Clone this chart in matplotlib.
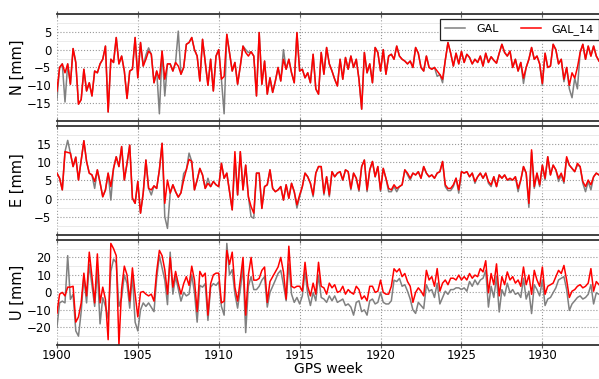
import numpy as np
import matplotlib
matplotlib.use("Agg")
import matplotlib.pyplot as plt
from matplotlib.ticker import MultipleLocator

# GPS weeks, 6 samples per week
weeks = np.linspace(1900, 1933.5, 202)

# North component [mm]
n_gal = [
    -14, -5, -4, -14.7, -4, -9.7, 0.3, -3.6, -15.3, -14,
    -5.5, -11.6, -9.3, -13, -6, -6.5, -4, -2.7, 1, -17.5,
    -2.7, -3.6, 3.4, -4, -1.8, -6, -13.7, -6, -5.5, 3.4,
    -7.9, 2, -4.6, -1.5, 0.5, -1.3, -9.3, -6, -18, -0.4,
    -13, -4, -4, -6, -3.6, 5.2, -6.9, -5, 1.5, 2,
    3.4, 0, -1.8, -8.8, 2.9, -3.6, -10, -2.7, -11.6, -1.8,
    0, -8.3, -18, 4.3, -0.8, -6, -3.6, -9.7,
    -4.6, 1, 0, -0.8, -0.6, -1.8, -13, 4.8, -9.7, -3.2,
    -12.5, -7.9, -12, -8.8, -5, -8.8, 0, -5.5, -2.7, -6.5,
    -9.3, 4.8, -6, -5.5, -7.9, -6.5, -9.3, -1.3, -11, -12.5,
    -0.8, -6.9, 0.6, -4, -6, -8.3, -10.2, -2.7, -8.3, -2.2,
    -5.5, -1.8, -5, -2.7, -8.3, -16.7, -0.8, -6.5, -4, -9.3,
    0.6, -0.8, -6, 0, -6.9, -1.8, -1.3, -2.7, 1, -1.8,
    -2.7, -3.2, -4, -3.2, -5, 0.6,
    -1, -5, -6, -1.8, -5, -5.5, -5, -7.5, -7, -9.3,
    -3, 2, -1, -4.6, -1, -4, -0.5, -3.6, -1.3, -2.2,
    -4, -2.7, -3.6, -1.8, -4.6, -1, -3.6, -2, -3, -3.8,
    -1, 1.5, -0.8, -1.8, -0.4, -5, -2.7, -6, -3.6, -9.5,
    -5, -2.7, 0.6, -2.7, -1.8, -4, -10, -1, -5, -4.6,
    1.5, 0, -4, -2.7, -9, -5, -11, -13.5, -8, -11,
    -0.8, 1.5, -2.7, 1, -1.8, 1, -1.8, -3.2,
]
n_gal14 = [
    -11.6, -5, -4, -6.5, -4, -9.7, 0.3, -3.6, -15.3, -14,
    -5.5, -11.6, -9.3, -13, -6, -6.5, -4, -2.7, 1, -17.5,
    -2.7, -3.6, 3.4, -4, -1.8, -6, -13.7, -6, -5.5, 3.4,
    -7.9, 2, -4.6, -2.7, -0.4, -1.3, -9.3, -6, -8.3, -0.4,
    -8.3, -4, -4, -6, -3.6, -4.6, -6.9, -5, 1.5, 2,
    3.4, 0, -1.8, -8.8, 2.9, -3.6, -10, -2.7, -11.6, -1.8,
    0, -8.3, -7.5, 4.3, -0.8, -6, -3.6, -9.7,
    -4.6, 1, -0.8, -1.8, -0.6, -1.8, -13, 4.8, -9.7, -3.2,
    -12.5, -7.9, -12, -8.8, -5, -8.8, -2.7, -5.5, -2.7, -6.5,
    -9.3, 4.8, -6, -5.5, -7.9, -6.5, -9.3, -1.3, -11, -12.5,
    -0.8, -6.9, 0.6, -4, -6, -8.3, -10.2, -2.7, -8.3, -2.2,
    -5.5, -1.8, -5, -2.7, -8.3, -16.7, -0.8, -6.5, -4, -9.3,
    0.6, -0.8, -6, 0, -6.9, -1.8, -1.3, -2.7, 1, -1.8,
    -2.7, -3.2, -4, -3.2, -5, 0.6,
    -1, -5, -6, -1.8, -5, -5.5, -5, -6, -7, -8.3,
    -3, 2, -1, -4.6, -1, -4, -0.5, -3.6, -1.3, -2.2,
    -4, -2.7, -3.6, -1.8, -4.6, -1, -3.6, -2, -3, -3.8,
    -1, 1.5, -0.8, -1.8, -0.4, -5, -2.7, -6, -3.6, -8,
    -5, -2.7, 0.6, -2.7, -1.8, -4, -9.5, -1, -5, -4.6,
    1.5, 0, -4, -2.7, -8.3, -5, -10, -6.5, -8, -5,
    -0.8, 1.5, -2.7, 1, -1.8, 1, -1.8, -3.2,
]

# East component [mm]
e_gal = [
    7, 5.6, 2.4, 12.9, 16, 12.5, 8.8, 11.4, 5.1, 10.6,
    15.9, 10.2, 7, 6.5, 2.8, 7.9, 4.4, 0.5, 2.4, 7,
    -0.4, 8.3, 11.5, 8.8, 14.3, 5.1, 9.7, 14.7, 0.1, -1.3,
    4.7, -4, 1.5, 10.6, 2.8, 1, 3.5, 2.8, 7.9, 15.2,
    -5, -8.2, 1.5, 3.8, 1.9, 0.4, 1.6, 6.9, 7.9, 12.5,
    10.2, 2.4, 5.1, 8.3, 6.5, 2.8, 5.6, 3.3, 4.7, 3.8,
    3.3, 9.7, 5.6, 7, 1.9, -3.1, 10.6, 1, 12.9, 2.4,
    9.2, 0.5, -5, -5.4, 7, 7, -2.7, 3.3, 3.8, 7.9,
    2.8, 1.9, 2.4, 3.3, -0.4, 3.8, 0.1,
    4.2, 1.9, -2.6, 0.5, 3.3, 7, 6, 4.2, 0.5, 7,
    8.8, 8.8, 1, 6, 0.5, 7.4, 6, 7, 7.4, 5.1,
    7.9, 7.4, 2.4, 7, 5.6, 2, 8.8, 10.6, 1.9, 7.9,
    10.2, 6, 8.8, 2, 8.3, 5.6, 1.9, 1.9, 3.3, 1.9,
    3.3, 3.8, 7.9, 6.5, 5.1, 7, 6.5, 7.4, 5.6, 8.8,
    7, 6, 6.5, 5.6, 7, 7.4, 10.2, 3.3, 2.2, 2.2,
    3.3, 5.6, 1.5, 7.4, 7, 7.4, 6, 7, 4.2, 6,
    7, 5.6, 7, 4.2, 3.3, 6, 3.3, 6.5, 5.6, 6.5,
    5.1, 5.1, 5.1, 6, 1.9, 5.1, 8.8, 7, -2.4, 12.8,
    2.8, 7, 3.3, 9.2, 5.1, 11.5, 6.5, 9.2, 7.9, 4.7,
    6.5, 4.2, 11, 9.2, 8.3, 7.4, 9.2, 8.8, 4.2, 1.9,
    4.7, 2.4, 6, 7, 6.5,
]
e_gal14 = [
    7, 5.6, 2.4, 12.9, 12.7, 12.5, 8.8, 11.4, 5.1, 10.6,
    15.9, 10.2, 7, 6.5, 4.7, 7.9, 4.4, 0.5, 2.4, 7,
    3.3, 8.3, 11.5, 8.8, 14.3, 5.1, 9.7, 14.7, 0.1, -1.3,
    4.7, -4, 1.5, 10.6, 2.8, 2.4, 3.5, 2.8, 7.9, 15.2,
    -1.3, 5.1, 1.5, 3.8, 1.9, 0.4, 1.6, 5.1, 7.9, 10.8,
    10.2, 2.4, 5.1, 8.3, 6.5, 2.8, 4.2, 3.3, 4.7, 3.8,
    3.3, 9.7, 5.6, 7, 1.9, -3.1, 12.9, 1, 12.9, 2.4,
    9.2, 0.5, -2.2, -4, 7, 7, -2.7, 3.3, 3.8, 7.9,
    2.8, 1.9, 2.4, 3.3, -0.4, 3.8, 0.1,
    4.2, 1.9, -1.7, 1, 3.3, 7, 6, 4.2, 1, 7,
    8.8, 8.8, 1.5, 6, 1, 7.4, 6, 7, 7.4, 5.1,
    7.9, 7.4, 2.8, 7, 5.6, 2.4, 8.8, 10.6, 2.4, 7.9,
    10.2, 6, 8.8, 2.4, 8.3, 5.6, 2.8, 2.4, 3.8, 2.8,
    3.3, 3.8, 7.9, 7, 5.6, 7, 6.5, 7.4, 5.6, 8.8,
    7, 6, 6.5, 5.6, 7, 7.4, 10.2, 3.8, 2.8, 2.8,
    3.8, 5.6, 2.4, 7.4, 7, 7.4, 6, 7, 4.7, 6,
    7, 5.6, 7, 4.7, 3.8, 6, 3.3, 6.5, 5.6, 6.5,
    5.1, 5.6, 5.1, 6, 2.8, 5.1, 8.8, 7, -1.3, 13.4,
    3.3, 7, 3.8, 9.2, 5.6, 11.5, 6.5, 9.2, 7.9, 5.6,
    7, 4.7, 11.5, 9.2, 8.3, 7.4, 9.7, 8.8, 4.7, 3.3,
    5.1, 3.8, 6, 7, 6.5,
]

# Up component [mm]
u_gal = [
    -20, -6, -5, -6, 21, -4, -1, -22, -25, -11,
    9, -6, 16, 4, -8, 13, -18, -3, -8, -15,
    12, 19, 17, -8, -3, 10, 5, -9, 10, -17,
    -22, -10, -6, -8, -6, -8.5, -11, 8, 21, 14,
    7, -7, 23, -1, 9, 2, -5, 0, -2, -1,
    10, 0, -17, 4, 3, 5, -16, 3, 5, 4,
    6, -8, -13, 28, 10, 13, -1, -9,
    1.6, 14.5, -23, 3.5, 9, 1.6, 1.6, 3.5, 7, 9,
    -8.4, 0, 3.5, 7, 10.8, 12.6, 4.4, -4.8, 16.3, -1,
    -5.7, -2.9, -6.6, -2, 11.7, -1, -7.5, 0, -4.8, 9.9,
    -2.9, -3.8, -5.7, -2, -4.8, -2, -5.7, -4.8, -3.8, -7.5,
    -6.6, -8.4, -13, -5.7, -4.8, -11, -10, -13, -4.8, -3.8,
    -6.6, -5.7, 0, -5.7, -6.6, -6.6, -4.8, 7, 6.2, 8,
    3.5, 4.4, 0.7, -3.8, -10, -12,
    -5.7, -7.5, -9.3, 4.4, 0.7, 1.6, -2.9, 5.3, -6.6, -2.9,
    0.7, -1.1, 1.6, 1.6, 2.6, 2.6, 1.6, 2.6, 0.7, 6.2,
    3.5, 7.1, 4.4, 7.1, 8.1, 12.6, -8.4, 3.5, -2.9, 9,
    -11.2, 1.6, -2, 5.3, -0.2, 1.6, -1.1, -0.2, -2.9, 8.1,
    -3.8, 0.7, -12.1, 4.4, 1.6, -2, 7.1, -7.5, -3.8, -2.9,
    -0.2, 2.6, 7.1, 8.1, 9, 1.6, -10.3, -6.6, -4.8, -2.9,
    -2, -3.8, -2.9, -1.1, 4.4, -6.6, -0.2, -1.1,
]
u_gal14 = [
    -12, -1, 0, -2, 3, 3, 3.5, -17, -14, -6,
    11, -2, 23, 9, -6, 22, -6, 3, -4, -27,
    28, 25, 21, -30, 2, 15, 10, -5, 14, -1,
    -14, 0, 0.5, -1, -2, -1, -5, 12, 24, 21,
    13, -1, 20, 3, 12, 5, -1, 5, 9, 4,
    15, 7, -11, 12, 9, 11, -13, 5, 10, 11,
    11, -6, -5, 24, 16, 23, 3, -5,
    7.1, 20, -13, 10, 20, 7, 7, 8, 12.6, 14.5,
    -5.7, 6.2, 9, 11.7, 14.5, 20, 11.7, -3.8, 26.4, 3.5,
    2.6, 3.5, 3.5, 0.7, 17.2, 3.5, -2, 5.3, -1, 17.2,
    3.5, 2.6, -1, 5.3, 2.6, 4.4, 0, 0.7, 3.5, -1,
    1.6, 0, -1, 3.5, 1.6, -3.8, -2, -4.8, 3.5, 3.5,
    0, 0.7, 7, 0, -1, -1, 3.5, 13.5, 11.7, 13.5,
    9, 10.8, 6.2, 3.5, -5.7, 0,
    2.6, 0.7, -2, 12.6, 7.1, 9, 3.5, 13.6, 0.7, 5.3,
    7.1, 4.4, 8.1, 8.1, 7.1, 9.9, 7.1, 9, 7.1, 10.8,
    8.1, 9.9, 9, 13.6, 11.7, 18.1, -0.2, 10.8, 4.4, 16.3,
    -2, 9, 4.4, 11.7, 7.1, 9, 5.3, 7.1, 3.5, 14.5,
    4.4, 9.9, -1.1, 12.6, 7.1, 3.5, 14.5, -1.1, 3.5, 4.4,
    5.3, 9, 12.6, 10.8, 15.4, 7.1, -2.9, 0.7, 1.6, 3.5,
    4.4, 2.6, 3.5, 5.3, 13.6, 0.7, 6.2, 4.4,
]

panels = [
    ("N [mm]", n_gal, n_gal14, (-20, 10), [-15, -10, -5, 0, 5], 2.5),
    ("E [mm]", e_gal, e_gal14, (-10, 20), [-5, 0, 5, 10, 15], 2.5),
    ("U [mm]", u_gal, u_gal14, (-30, 30), [-20, -10, 0, 10, 20], 5),
]

fig = plt.figure(figsize=(5.99, 3.79), dpi=100)
boxes = [[0.095, 0.681, 0.905, 0.282],
         [0.095, 0.380, 0.905, 0.288],
         [0.095, 0.090, 0.905, 0.277]]

axes = []
for box, (label, gal, gal14, ylim, yticks, minor) in zip(boxes, panels):
    ax = fig.add_axes(box)
    ax.plot(weeks, gal, color="#808080", lw=1.1, label="GAL")
    ax.plot(weeks, gal14, color="red", lw=1.1, label="GAL_14")
    ax.set_xlim(1900, 1933.5)
    ax.set_ylim(*ylim)
    ax.set_yticks(yticks)
    ax.yaxis.set_minor_locator(MultipleLocator(minor))
    ax.xaxis.set_major_locator(MultipleLocator(5))
    ax.grid(True, which="major", color="#999999", linestyle=":", lw=0.8)
    ax.grid(True, which="minor", axis="y", color="#e6e6e6", linestyle="-", lw=0.6)
    ax.set_axisbelow(True)
    for side in ["left", "right"]:
        ax.spines[side].set_visible(False)
    for side in ["top", "bottom"]:
        ax.spines[side].set_color("#333333")
        ax.spines[side].set_linewidth(1.3)
    ax.tick_params(axis="y", which="both", length=0, pad=4, labelsize=8.5)
    ax.tick_params(axis="x", which="major", direction="inout", length=4,
                   top=True, bottom=True, color="#666666", labelsize=8.5, pad=1)
    ax.set_ylabel(label, fontsize=10.5)
    ax.yaxis.set_label_coords(-0.06, 0.5)
    axes.append(ax)

axes[0].tick_params(labelbottom=False)
axes[1].tick_params(labelbottom=False)
axes[2].set_xlabel("GPS week", fontsize=10, labelpad=0)
axes[2].xaxis.set_label_coords(0.5, -0.165)

leg = axes[0].legend(loc="upper right", bbox_to_anchor=(1.0, 0.953), ncol=2,
                     fontsize=8, fancybox=False, framealpha=1, edgecolor="#222222",
                     borderaxespad=0, handlelength=1.8, columnspacing=2.0,
                     handletextpad=1.0, borderpad=0.45)
leg.get_frame().set_linewidth(0.9)

fig.savefig("out.png", dpi=100)
